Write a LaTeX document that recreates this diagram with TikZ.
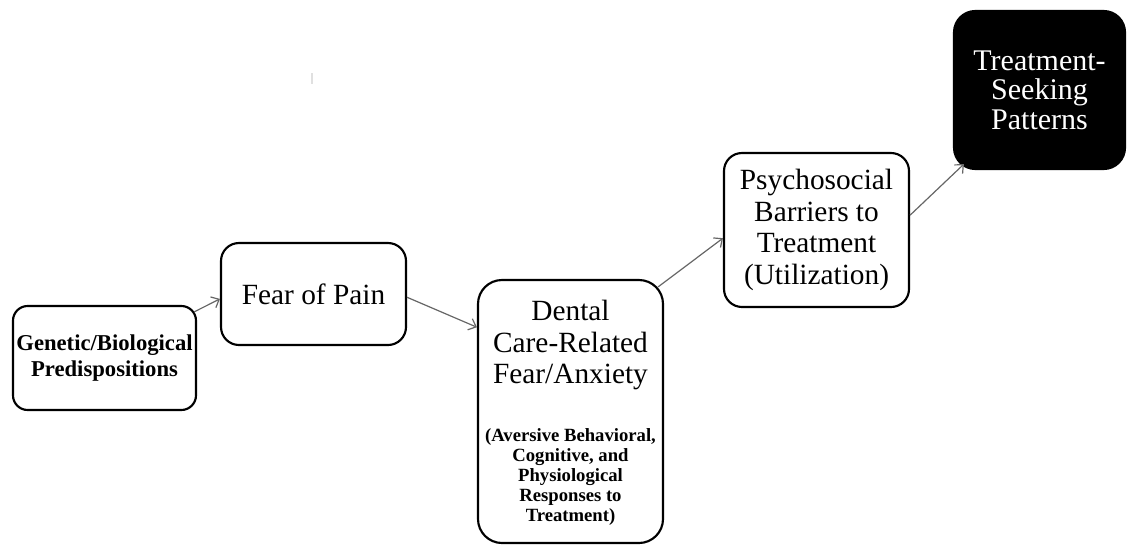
\documentclass[tikz,border=0pt]{standalone}
\usepackage{fontspec}
\setmainfont{Liberation Serif}
\usetikzlibrary{arrows.meta,calc}
\begin{document}
\begin{tikzpicture}[x=0.75pt,y=-0.75pt,
  box/.style={draw=black,line width=1.6pt,rounded corners=#1,fill=white,align=center,inner sep=0pt},
  box/.default=13.5pt,
  big/.style={font=\fontsize{22}{23.6}\selectfont},
  small/.style={font=\fontsize{14}{15}\selectfont\bfseries},
  conn/.style={draw=black!60,line width=0.9pt,-{Straight Barb[length=5pt,width=9pt]}}]
\useasboundingbox (0,0) rectangle (1127,546);
% boxes
\node[box=11pt,minimum width=137.25pt,minimum height=78pt,
      font=\fontsize{17}{19}\selectfont\bfseries] (g) at (104.5,358)
      {Genetic/Biological\\Predispositions};
\node[box,big,minimum width=138.75pt,minimum height=76.5pt] (f) at (313.5,294) {Fear of Pain};
\node[box=18pt,minimum width=138.75pt,minimum height=197.25pt] (d) at (570.5,411.5) {};
\node[big,align=center,inner sep=0pt] (dt) at (570.5,345) {Dental\\Care-Related\\Fear/Anxiety};
\node[small,align=center,inner sep=0pt] (ds) at (570.5,477)
      {(Aversive Behavioral,\\Cognitive, and\\Physiological\\Responses to\\Treatment)};
\node[box,big,minimum width=138.75pt,minimum height=115.5pt] (p) at (816.5,230)
      {Psychosocial\\Barriers to\\Treatment\\(Utilization)};
\node[box=16pt,fill=black,text=white,minimum width=128.25pt,minimum height=118.5pt,
      font=\fontsize{22.5}{22}\selectfont] (t) at (1039.5,90)
      {Treatment-\\Seeking\\Patterns};
% connectors
\draw[conn] ($(g.north east)+(-3,7)$) -- (f.183);
\draw[conn] (f.358) -- (d.138.6);
\draw[conn] ($(d.north east)+(-6,8)$) -- (p.185);
\draw[conn] (p.9) -- ($(t.south west)+(11,-6)$);
% faint mark
\draw[black!12,line width=1.2pt] (312,73) -- (312,84);
\end{tikzpicture}
\end{document}
